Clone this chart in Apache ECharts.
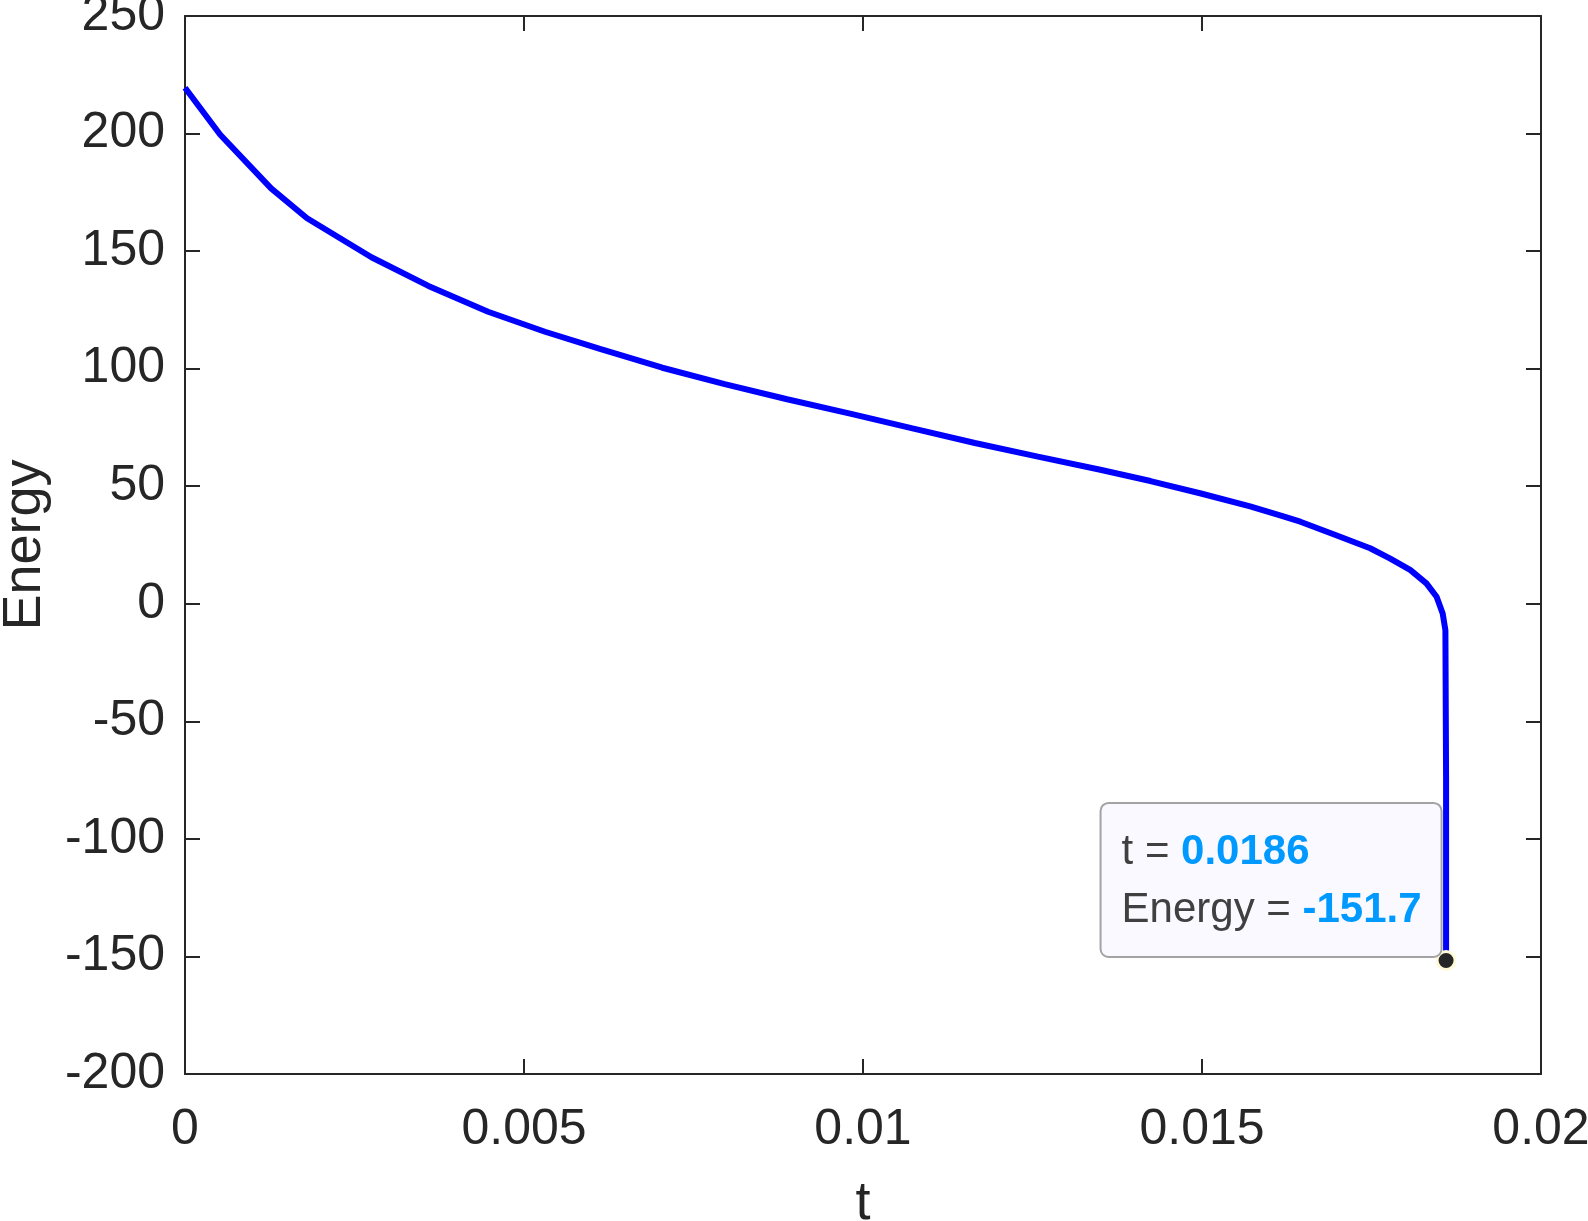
<!DOCTYPE html>
<html>
<head>
<meta charset="utf-8">
<title>Energy</title>
<script src="https://cdn.jsdelivr.net/npm/echarts@6/dist/echarts.min.js"></script>
<style>
html, body { margin: 0; padding: 0; background: #fff; }
#chart { width: 1588px; height: 1221px; }
</style>
</head>
<body>
<div id="chart"></div>
<script>
// values
var tValues = [0, 0.00052, 0.00127, 0.0018, 0.00275, 0.00359, 0.00447, 0.00531,
	0.00612, 0.00704, 0.00796, 0.00888, 0.00981, 0.01073, 0.01165, 0.01258,
	0.0135, 0.01424, 0.01497, 0.01571, 0.0162, 0.01645, 0.01694, 0.01748,
	0.01777, 0.01807, 0.01831, 0.01846, 0.01855, 0.01859, 0.0186, 0.0186];
var energyValues = [219.5, 199.5, 176.7, 164, 147.4, 135.2, 124.2, 115.7,
	108.4, 100.4, 93.4, 87.0, 80.9, 74.6, 68.4, 62.6,
	57, 52.2, 47, 41.4, 37.2, 34.9, 29.6, 23.6,
	19.3, 14.4, 8.7, 3, -4.1, -11.2, -73.7, -151.7];
var xTicks = { min: 0, max: 0.02, step: 0.005 };
var yTicks = { min: -200, max: 250, step: 50 };
var tipPoint = [0.0186, -151.7];

var axisColor = '#262626';
var fontFamily = '"Liberation Sans", Arial, Helvetica, sans-serif';

var lineData = [];
for (var i = 0; i < tValues.length; i++) {
	lineData.push([tValues[i], energyValues[i]]);
}

function boxAxis(ticks, pos, showLabel) {
	return {
		type: 'value',
		position: pos,
		min: ticks.min,
		max: ticks.max,
		interval: ticks.step,
		axisLine: { show: true, onZero: false, lineStyle: { color: axisColor, width: 2 } },
		axisTick: { show: true, inside: true, length: 15, lineStyle: { color: axisColor, width: 2 } },
		splitLine: { show: false },
		axisLabel: { show: showLabel, color: axisColor, fontSize: 50, fontFamily: fontFamily }
	};
}

var xBottom = boxAxis(xTicks, 'bottom', true);
xBottom.axisLabel.margin = 31;
xBottom.name = 't';
xBottom.nameLocation = 'middle';
xBottom.nameGap = 103;
xBottom.nameTextStyle = { color: axisColor, fontSize: 54, fontFamily: fontFamily };

var yLeft = boxAxis(yTicks, 'left', true);
yLeft.axisLabel.margin = 20;
yLeft.axisLabel.padding = [12, 0, 0, 0];
yLeft.name = 'Energy';
yLeft.nameLocation = 'middle';
yLeft.nameGap = 133;
yLeft.nameTextStyle = { color: axisColor, fontSize: 54, fontFamily: fontFamily };

var chart = echarts.init(document.getElementById('chart'));
chart.setOption({
	animation: false,
	backgroundColor: '#ffffff',
	grid: { left: 185, top: 16, width: 1356, height: 1058, outerBoundsMode: 'none', containLabel: false },
	xAxis: [xBottom, boxAxis(xTicks, 'top', false)],
	yAxis: [yLeft, boxAxis(yTicks, 'right', false)],
	series: [{
		type: 'line',
		data: lineData,
		showSymbol: false,
		smooth: false,
		lineStyle: { color: '#0000ff', width: 6 },
		markPoint: {
			symbol: 'circle',
			symbolSize: 18,
			itemStyle: { color: '#262626', borderColor: '#fffbd8', borderWidth: 3 },
			data: [{
				coord: tipPoint,
				label: {
					show: true,
					position: [5, 6],
					align: 'right',
					verticalAlign: 'bottom',
					backgroundColor: '#f9f9ff',
					borderColor: '#a3a3a3',
					borderWidth: 2,
					borderRadius: 7,
					padding: [19, 19, 17, 20],
					lineHeight: 58,
					fontFamily: fontFamily,
					formatter: '{k|t = }{v|' + tipPoint[0] + '}\n{k|Energy = }{v|' + tipPoint[1] + '}',
					rich: {
						k: { align: 'left', color: '#404040', fontSize: 42, lineHeight: 58, fontFamily: fontFamily },
						v: { align: 'left', color: '#0099ff', fontSize: 42, fontWeight: 'bold', lineHeight: 58, fontFamily: fontFamily }
					}
				}
			}]
		}
	}]
});
</script>
</body>
</html>
